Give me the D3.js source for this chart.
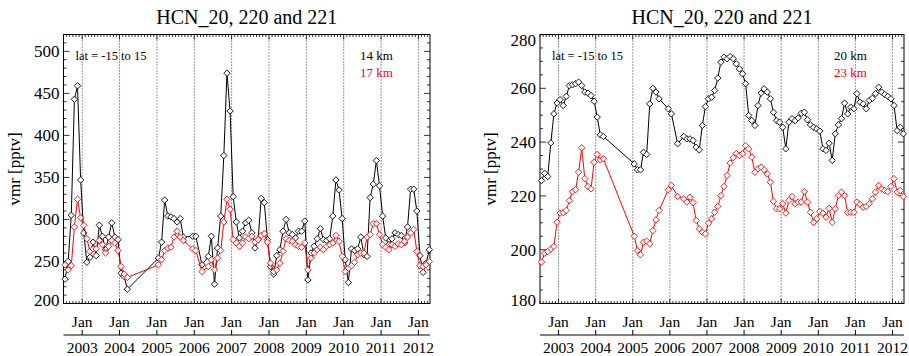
<!DOCTYPE html>
<html><head><meta charset="utf-8">
<script src="https://cdn.jsdelivr.net/npm/d3@7"></script>
<style>body{margin:0;background:#fff;} svg{display:block;}</style>
</head><body>
<svg id="chart" width="909" height="356"></svg>
<script>
// ---------------- data ----------------
const months = [
 "2002-07","2002-08","2002-09","2002-10","2002-11","2002-12",
 "2003-01","2003-02","2003-03","2003-04","2003-05","2003-06","2003-07","2003-08","2003-09","2003-10","2003-11","2003-12",
 "2004-01","2004-02","2004-03",
 "2005-01","2005-02","2005-03","2005-04","2005-05","2005-06","2005-07","2005-08","2005-09",
 "2005-12","2006-01","2006-03",
 "2006-05","2006-06","2006-07","2006-08","2006-09","2006-10","2006-11","2006-12",
 "2007-01","2007-02","2007-03","2007-04","2007-05","2007-06","2007-07","2007-08","2007-09","2007-10","2007-11","2007-12",
 "2008-01","2008-02","2008-03","2008-04","2008-05","2008-06","2008-07","2008-08","2008-09","2008-10","2008-11","2008-12",
 "2009-01","2009-02","2009-03","2009-04","2009-05","2009-06","2009-07","2009-08","2009-09","2009-10","2009-11","2009-12",
 "2010-01","2010-02","2010-03","2010-04","2010-05","2010-06","2010-07","2010-08","2010-09","2010-10","2010-11","2010-12",
 "2011-01","2011-02","2011-03","2011-04","2011-05","2011-06","2011-07","2011-08","2011-09","2011-10","2011-11","2011-12",
 "2012-01","2012-02","2012-03","2012-04"
];
const hcn14 = [
 229,250,305,443,459,347,
 284,249,255,273,257,293,280,264,279,296,279,276,
 236,232,217,
 254,273,323,304,303,301,297,301,279,
 280,280,246,
 256,280,223,266,304,376,474,429,
 327,297,278,286,296,299,284,266,276,325,320,276,
 244,235,257,264,286,300,284,282,278,286,286,298,
 228,260,268,277,289,276,275,277,304,347,335,301,
 252,225,265,263,265,279,258,256,326,342,370,340,
 304,278,270,277,284,282,281,272,291,336,336,310,
 257,237,248,264
];
const hcn17 = [
 246,240,245,291,324,302,
 293,277,262,265,265,275,270,260,268,275,272,263,
 244,235,231,
 246,252,263,266,267,279,286,279,275,
 265,263,238,
 244,252,240,254,263,297,324,312,
 276,272,268,272,279,277,280,273,276,281,283,273,
 248,238,240,248,262,277,275,274,270,268,267,272,
 240,254,260,264,267,264,268,270,272,281,274,256,
 238,242,245,249,258,260,260,279,282,295,295,282,
 270,267,264,270,268,271,270,274,279,284,288,262,
 245,244,246,250
];
const hcn20 = [
 225.7,228.4,227.2,239.7,250.5,254.5,
 255.8,253.6,257,261,261.3,261.7,262.3,261,258.6,258.2,257.3,255.2,
 249.3,242.7,242.1,
 231.9,229.7,229.7,236.2,235.4,254.2,260,258.6,256.1,
 252.4,250.5,239.4,
 242.1,241.2,241.2,240.6,238.1,237.1,246.2,253.2,
 256.1,256.7,259.2,263.8,269.7,271.6,271,271.8,271,269.1,267.2,265.4,
 261.7,249.9,248,246.2,253.6,258.2,259.8,258.6,256.1,251.1,248,247.4,
 245.5,237.5,247.4,248.7,248,249,250.7,251.1,248.3,246.4,245.5,244.9,
 244.1,237.5,236.9,239.6,233.2,243.1,246.4,248.7,254.5,250.5,253,252.4,
 258,254.8,254.2,252.4,255.5,256.3,258,260.4,258.6,257.7,257,256.1,
 253.6,244.3,245.5,243.1
];
const hcn23 = [
 195.4,198.7,199.3,200.3,201.2,210.2,
 213.6,213.8,214.6,218.3,221.6,222.3,228.8,237.9,226.4,223.5,222.6,232.5,
 235.4,233.4,233.8,
 205,199.7,198.1,202.8,203.2,202.2,207.1,211.1,214.6,
 222.3,223.9,219.8,
 218.9,217.7,219.5,217.5,210.9,207.8,206.5,205.9,
 209.9,211.5,213.9,216.1,220.1,223.5,227.6,232.2,234.2,235.7,235,235.7,
 238.7,237.5,234.4,228.8,230.1,230.7,229.7,228.2,225.1,218,215.2,215.2,
 217.1,213.6,218.3,219.8,217.1,217.7,217.7,221.6,217.7,213.9,210.2,211.5,
 214.2,213.6,212.1,215.4,210.2,215.2,220.1,221.4,220.1,213.9,213.9,213.9,
 217.7,216.8,215.8,216.1,217.1,218.9,221.4,223.9,222.6,222,221.6,223.5,
 226.4,221.4,222,219.8
];
const janYears = [2003,2004,2005,2006,2007,2008,2009,2010,2011,2012];
const leftTicks = [200,250,300,350,400,450,500];
const rightTicks = [180,200,220,240,260,280];
const titleText = "HCN_20, 220 and 221";
const yLabel = "vmr [pptv]";
const latText = "lat = -15 to 15";

// ---------------- drawing ----------------
const svg = d3.select("#chart");
const FONT = "'Liberation Serif','DejaVu Serif',serif";
const toYear = s => { const [y,m] = s.split("-").map(Number); return y + (m - 0.5)/12; };

const panels = [
  {x0:63.5, x1:430, dom:[200,520], ticks:leftTicks, minor:10, major:50,
   series:[{v:hcn14,c:"#000"},{v:hcn17,c:"#ff0000"}], names:["14 km","17 km"]},
  {x0:540, x1:904, dom:[180,280], ticks:rightTicks, minor:5, major:20,
   series:[{v:hcn20,c:"#000"},{v:hcn23,c:"#ff0000"}], names:["20 km","23 km"]}
];
const yTop = 34.5, yBot = 303.5;

panels.forEach(p => {
  const x = d3.scaleLinear().domain([2002.5, 2012.31]).range([p.x0, p.x1]);
  const y = d3.scaleLinear().domain(p.dom).range([yBot, yTop]);
  const g = svg.append("g");

  g.append("text").attr("x", (p.x0+p.x1)/2).attr("y", 24).attr("text-anchor","middle")
    .attr("font-family",FONT).attr("font-size",20).text(titleText);
  g.append("text").attr("transform",`translate(${p.x0-44},${(yTop+yBot)/2}) rotate(-90)`)
    .attr("text-anchor","middle").attr("font-family",FONT).attr("font-size",17).text(yLabel);

  g.selectAll("line.jan").data(janYears).enter().append("line")
    .attr("x1",d=>x(d)).attr("x2",d=>x(d)).attr("y1",yTop).attr("y2",yBot)
    .attr("stroke","#000").attr("stroke-width",0.8).attr("stroke-dasharray","1,2");

  const monthTicks = d3.range(2002.5, 2012.31, 1/12);
  monthTicks.forEach(t => {
    const isJan = Math.abs(t - Math.round(t)) < 1e-6;
    const len = isJan ? 5 : 2.5;
    g.append("line").attr("x1",x(t)).attr("x2",x(t)).attr("y1",yBot).attr("y2",yBot-len).attr("stroke","#000").attr("stroke-width",0.8);
    g.append("line").attr("x1",x(t)).attr("x2",x(t)).attr("y1",yTop).attr("y2",yTop+len).attr("stroke","#000").attr("stroke-width",0.8);
  });

  const minorTicks = d3.range(p.dom[0], p.dom[1]+0.001, p.minor);
  minorTicks.forEach(v => {
    const isMaj = Math.abs(v/p.major - Math.round(v/p.major)) < 1e-6;
    const len = isMaj ? 6 : 3;
    g.append("line").attr("x1",p.x0).attr("x2",p.x0+len).attr("y1",y(v)).attr("y2",y(v)).attr("stroke","#000").attr("stroke-width",0.8);
    g.append("line").attr("x1",p.x1).attr("x2",p.x1-len).attr("y1",y(v)).attr("y2",y(v)).attr("stroke","#000").attr("stroke-width",0.8);
  });
  g.selectAll("text.yt").data(p.ticks).enter().append("text")
    .attr("x", p.x0-4).attr("y", (d,i) => {
      let yy = y(d) + 6;
      if (i === 0) yy -= 4;
      if (i === p.ticks.length-1 && y(d) < yTop + 2) yy += 5;
      return yy;
    })
    .attr("text-anchor","end").attr("font-family",FONT).attr("font-size",17).text(d=>d);

  g.append("rect").attr("x",p.x0).attr("y",yTop).attr("width",p.x1-p.x0).attr("height",yBot-yTop)
    .attr("fill","none").attr("stroke","#000").attr("stroke-width",1);

  p.series.forEach(s => {
    const pts = months.map((m,i) => [toYear(m), s.v[i]]);
    g.append("path").datum(pts)
      .attr("d", d3.line().x(d=>x(d[0])).y(d=>y(d[1])))
      .attr("fill","none").attr("stroke",s.c).attr("stroke-width",1);
    g.selectAll(null).data(pts).enter().append("path")
      .attr("transform", d=>`translate(${x(d[0])},${y(d[1])})`)
      .attr("d","M0,-3.2L3.2,0L0,3.2L-3.2,0Z")
      .attr("fill","#fff").attr("stroke",s.c).attr("stroke-width",0.9);
  });

  g.append("text").attr("x",p.x0+12).attr("y",60).attr("font-family",FONT).attr("font-size",12.5).text(latText);
  g.append("text").attr("x",p.x1-70).attr("y",60).attr("font-family",FONT).attr("font-size",13).attr("fill","#000").text(p.names[0]);
  g.append("text").attr("x",p.x1-70).attr("y",77).attr("font-family",FONT).attr("font-size",13).attr("fill","#ff0000").text(p.names[1]);

  g.selectAll("text.jl").data(janYears).enter().append("text")
    .attr("x",d=>x(d)).attr("y",327).attr("text-anchor","middle")
    .attr("font-family",FONT).attr("font-size",15.5).text("Jan");
  g.append("line").attr("x1",p.x0).attr("x2",p.x1).attr("y1",335).attr("y2",335).attr("stroke","#000").attr("stroke-width",1);
  g.selectAll("line.yt2").data(janYears).enter().append("line")
    .attr("x1",d=>x(d)).attr("x2",d=>x(d)).attr("y1",335).attr("y2",330).attr("stroke","#000").attr("stroke-width",1);
  g.selectAll("text.yl").data(janYears).enter().append("text")
    .attr("x",d=>x(d)).attr("y",353).attr("text-anchor","middle")
    .attr("font-family",FONT).attr("font-size",15.5).text(d=>String(d));
});
</script>
</body></html>
